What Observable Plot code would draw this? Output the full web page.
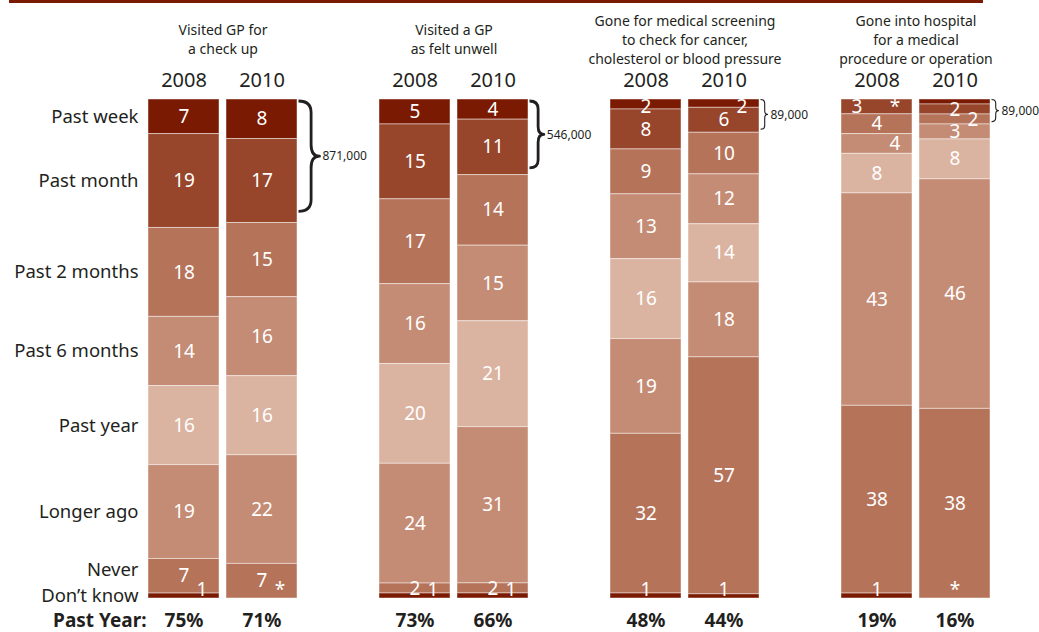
<!DOCTYPE html>
<html><head><meta charset="utf-8">
<script src="https://cdn.jsdelivr.net/npm/d3@7"></script>
<script src="https://cdn.jsdelivr.net/npm/@observablehq/plot@0.6"></script>
<style>
html,body{margin:0;padding:0;background:#fff;}
#wrap{position:relative;width:1039px;height:632px;overflow:hidden;}
#topline{position:absolute;left:9px;top:0;width:974px;height:3px;background:#7b1a02;}
#chart{position:absolute;left:0;top:0;}
</style></head><body>
<div id="wrap"><div id="chart"></div><div id="topline"></div></div>
<script>
// ---------- data ----------
const groups = [
  "Visited GP for\na check up",
  "Visited a GP\nas felt unwell",
  "Gone for medical screening\nto check for cancer,\ncholesterol or blood pressure",
  "Gone into hospital\nfor a medical\nprocedure or operation"
];
const years = ["2008", "2010"];
const categories = ["Past week", "Past month", "Past 2 months", "Past 6 months", "Past year", "Longer ago", "Never", "Don’t know"];
const categoryColors = ["#7b1a02", "#97452b", "#b5735a", "#c58c75", "#dbb4a1", "#c58c75", "#b5735a", "#7b1a02"];

const checkUp2008 = [7, 19, 18, 14, 16, 19, 7, 1];
const checkUp2010 = [8, 17, 15, 16, 16, 22, 7, 0];
const unwell2008 = [5, 15, 17, 16, 20, 24, 2, 1];
const unwell2010 = [4, 11, 14, 15, 21, 31, 2, 1];
const screening2008 = [2, 8, 9, 13, 16, 19, 32, 1];
const screening2010 = [2, 6, 10, 12, 14, 18, 57, 1];
const hospital2008 = [0, 3, 4, 4, 8, 43, 38, 1];
const hospital2010 = [1, 2, 2, 3, 8, 46, 38, 0];

const checkUp2008Labels = ["7", "19", "18", "14", "16", "19", "7", "1"];
const checkUp2010Labels = ["8", "17", "15", "16", "16", "22", "7", "*"];
const unwell2008Labels = ["5", "15", "17", "16", "20", "24", "2", "1"];
const unwell2010Labels = ["4", "11", "14", "15", "21", "31", "2", "1"];
const screening2008Labels = ["2", "8", "9", "13", "16", "19", "32", "1"];
const screening2010Labels = ["2", "6", "10", "12", "14", "18", "57", "1"];
const hospital2008Labels = ["*", "3", "4", "4", "8", "43", "38", "1"];
const hospital2010Labels = ["", "2", "2", "3", "8", "46", "38", "*"];

const pastYear = [75, 71, 73, 66, 48, 44, 19, 16];

const braceGroupIndex = [0, 1, 2, 3];
const braceCategoryCount = [2, 2, 2, 3];
const braceLabels = ["871,000", "546,000", "89,000", "89,000"];

// ---------- build table ----------
const barValues = [[checkUp2008, checkUp2010], [unwell2008, unwell2010], [screening2008, screening2010], [hospital2008, hospital2010]];
const barLabels = [[checkUp2008Labels, checkUp2010Labels], [unwell2008Labels, unwell2010Labels], [screening2008Labels, screening2010Labels], [hospital2008Labels, hospital2010Labels]];

const rows = [];
const bars = [];
const T = 0.04, LO = 0.014, HI = 0.982;
groups.forEach((g, gi) => years.forEach((yr, yi) => {
  const vals = barValues[gi][yi], labs = barLabels[gi][yi];
  const total = d3.sum(vals);
  let acc = 0;
  const bar = vals.map((v, ci) => {
    const y1 = acc / total; acc += v; const y2 = acc / total;
    const mid = (y1 + y2) / 2;
    return {group: g, year: yr, cat: categories[ci], value: v, label: labs[ci], y1, y2, mid,
            ly: Math.min(HI, Math.max(LO, mid)), shift: 0};
  });
  // avoid overlapping labels in small segments
  const lab = bar.filter(r => r.label !== "");
  const shifted = [];
  const dirFor = r => shifted.some(s => s.shift > 0 && Math.abs(s.ly - r.ly) < T) ? -1 : 1;
  let prev = null;
  for (const r of lab) {
    if (prev && r.ly - prev.ly < T) {
      if (prev.value < r.value) { prev.shift = dirFor(prev); shifted.push(prev); prev = r; }
      else { r.shift = dirFor(r); shifted.push(r); }
    } else prev = r;
  }
  rows.push(...bar);
  bars.push({group: g, year: yr, pct: pastYear[gi * 2 + yi]});
}));

// category labels follow the first bar, pushed apart where they would collide
const catRows = rows.filter(r => r.group === groups[0] && r.year === "2008").map(r => ({...r, cy: r.mid}));
for (let i = catRows.length - 2; i >= 0; i--) {
  catRows[i].cy = Math.min(catRows[i].cy, catRows[i + 1].cy - 0.052);
}

const braceRows = braceGroupIndex.map((gi, k) => {
  const bar = rows.filter(r => r.group === groups[gi] && r.year === "2010");
  return {group: groups[gi], year: "2010", y1: bar[0].y1, y2: bar[braceCategoryCount[k] - 1].y2, label: braceLabels[k]};
});

const textColor = "#231f20";

const chart = Plot.plot({
  width: 1039, height: 632,
  marginTop: 99, marginBottom: 34, marginLeft: 148, marginRight: 49,
  style: {fontFamily: "'Noto Sans', sans-serif", color: textColor, background: "transparent", overflow: "visible"},
  fx: {domain: groups, paddingInner: 0.356, paddingOuter: 0, axis: null, label: null},
  x: {domain: years, paddingInner: 0.09, paddingOuter: 0, axis: null},
  y: {domain: [0, 1], reverse: true, axis: null},
  color: {domain: categories, range: categoryColors},
  marks: [
    Plot.barY(rows, {fx: "group", x: "year", y1: "y1", y2: "y2", fill: "cat", stroke: "#ffffff", strokeOpacity: 0.45, strokeWidth: 1}),
    Plot.text(rows.filter(r => r.label !== "" && r.shift === 0), {fx: "group", x: "year", y: "ly", text: "label", fill: "white", fontSize: 19}),
    Plot.text(rows.filter(r => r.label !== "" && r.shift > 0), {fx: "group", x: "year", y: "ly", text: "label", fill: "white", fontSize: 19, dx: 18}),
    Plot.text(rows.filter(r => r.label !== "" && r.shift < 0), {fx: "group", x: "year", y: "ly", text: "label", fill: "white", fontSize: 19, dx: -20}),
    // group titles
    Plot.text(groups, {fx: d => d, text: d => d, frameAnchor: "top", dy: -61, lineAnchor: "middle", lineHeight: 1.36, fontSize: 14, fill: textColor}),
    // year labels
    Plot.text(bars, {fx: "group", x: "year", text: "year", frameAnchor: "top", lineAnchor: "middle", dy: -19, fontSize: 20, fill: textColor}),
    // past-year percentages
    Plot.text(bars, {fx: "group", x: "year", text: d => d.pct + "%", frameAnchor: "bottom", lineAnchor: "middle", dy: 22, fontSize: 19, fontWeight: "bold", fill: textColor}),
    Plot.text([groups[0]], {fx: d => d, text: () => "Past Year:", frameAnchor: "bottom-left", lineAnchor: "middle", dy: 22, dx: -2, textAnchor: "end", fontSize: 19, fontWeight: "bold", fill: textColor}),
    // category labels
    Plot.text(catRows, {fx: "group", y: "cy", text: "cat", frameAnchor: "left", textAnchor: "end", dx: -10, fontSize: 18.5, fill: textColor}),
    // braces
    Plot.barY(braceRows, {fx: "group", x: "year", y1: "y1", y2: "y2", fill: "none",
      render: (index, scales, values) => {
        const g = d3.create("svg:g");
        const bw = typeof scales.x.bandwidth === "function" ? scales.x.bandwidth() : scales.x.bandwidth;
        for (const i of index) {
          const top = Math.min(values.y1[i], values.y2[i]);
          const bot = Math.max(values.y1[i], values.y2[i]);
          const h = bot - top;
          const y0 = top + (h > 50 ? 2 : 0.5);
          const y1 = bot - 0.09 * h;
          const x0 = values.x[i] + bw + 1.5;
          const w = Math.max(7, Math.min(21, 0.19 * h));
          const xm = x0 + w * 0.6;
          const ym = (y0 + y1) / 2;
          const r = Math.min(w * 0.55, (y1 - y0) / 4);
          const d = `M${x0},${y0} Q${xm},${y0} ${xm},${y0 + r} L${xm},${ym - r} Q${xm},${ym} ${x0 + w},${ym} Q${xm},${ym} ${xm},${ym + r} L${xm},${y1 - r} Q${xm},${y1} ${x0},${y1}`;
          g.append("path").attr("d", d).attr("fill", "none").attr("stroke", "#231f20")
            .attr("stroke-width", h > 50 ? 2.8 : 1.1).attr("stroke-linejoin", "round");
          g.append("text").attr("x", x0 + w + 3).attr("y", ym).attr("dy", "0.35em")
            .attr("text-anchor", "start").attr("font-size", 12).attr("fill", textColor).text(braceRows[i].label);
        }
        return g.node();
      }})
  ]
});
document.getElementById("chart").appendChild(chart);
</script>
</body></html>
